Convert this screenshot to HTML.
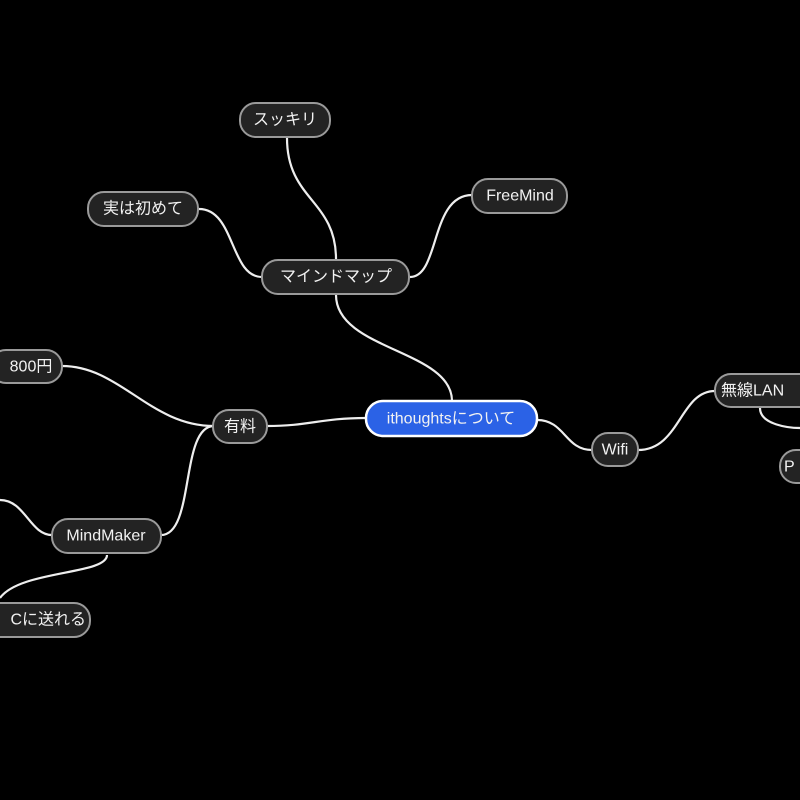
<!DOCTYPE html>
<html><head><meta charset="utf-8"><style>
html,body{margin:0;padding:0;background:#000;width:800px;height:800px;overflow:hidden}
text{font-family:"Liberation Sans","Noto Sans CJK JP",sans-serif;font-size:16px;fill:#f2f2f2;text-anchor:middle;dominant-baseline:central}
.n{fill:#232323;stroke:#9a9a9a;stroke-width:2}
.e{fill:none;stroke:#eee;stroke-width:2.2}
</style></head><body>
<svg width="800" height="800" viewBox="0 0 800 800" xmlns="http://www.w3.org/2000/svg">
<rect width="800" height="800" fill="#000"/>
<path class="e" d="M287,138 C287,200 336,200 336,259"/>
<path class="e" d="M199,209 C235,209 230,277 262,277"/>
<path class="e" d="M472,195 C430,195 440,277 410,277"/>
<path class="e" d="M336,295 C336,350 452,350 452,401"/>
<path class="e" d="M214,426 C150,426 120,366 62,366"/>
<path class="e" d="M214,426 C180,426 195,535 161,535"/>
<path class="e" d="M267,426 C310,426 320,418 366,418"/>
<path class="e" d="M52,535 C30,535 25,500 0,500"/>
<path class="e" d="M107,555 C107,575 20,570 0,598"/>
<path class="e" d="M537,420 C565,420 565,450 592,450"/>
<path class="e" d="M638,450 C680,450 680,391 715,391"/>
<path class="e" d="M760,408 C760,425 790,428 800,428"/>
<rect class="n" x="240" y="103" width="90" height="34" rx="16"/><text x="285" y="120">スッキリ</text>
<rect class="n" x="88" y="192" width="110" height="34" rx="16"/><text x="143" y="209">実は初めて</text>
<rect class="n" x="472" y="179" width="95" height="34" rx="16"/><text x="520" y="196">FreeMind</text>
<rect class="n" x="262" y="260" width="147" height="34" rx="16"/><text x="336" y="277">マインドマップ</text>
<rect class="n" x="-10" y="350" width="72" height="33" rx="16"/><text x="31" y="367">800円</text>
<rect class="n" x="213" y="410" width="54" height="33" rx="16"/><text x="240" y="427">有料</text>
<rect x="366" y="401" width="171" height="35" rx="17" fill="#2b62e6" stroke="#fff" stroke-width="2.5"/><text x="451" y="419">ithoughtsについて</text>
<rect class="n" x="592" y="433" width="46" height="33" rx="16"/><text x="615" y="450">Wifi</text>
<rect class="n" x="715" y="374" width="100" height="33" rx="16"/><text x="721" y="391" style="text-anchor:start">無線LAN</text>
<rect class="n" x="780" y="450" width="60" height="33" rx="16"/><text x="784" y="467" style="text-anchor:start">P</text>
<rect class="n" x="52" y="519" width="109" height="34" rx="16"/><text x="106" y="536">MindMaker</text>
<rect class="n" x="-60" y="603" width="150" height="34" rx="16"/><text x="86" y="620" style="text-anchor:end">Cに送れる</text>
</svg>
</body></html>
